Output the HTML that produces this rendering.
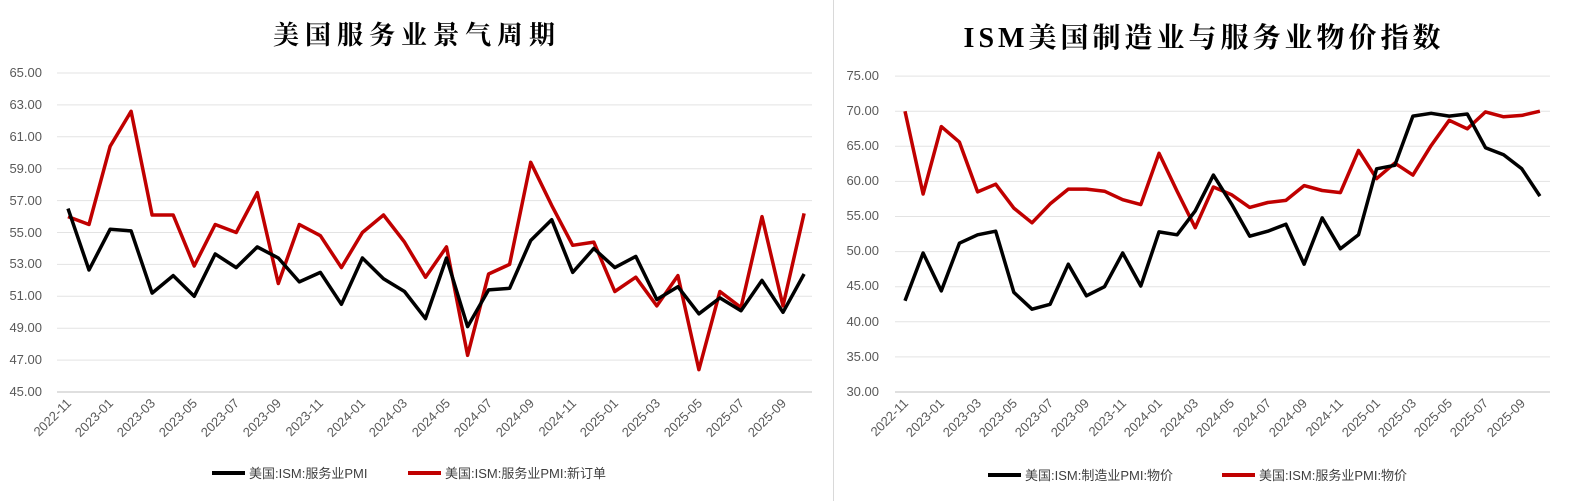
<!DOCTYPE html>
<html><head><meta charset="utf-8"><style>
html,body{margin:0;padding:0;background:#fff;}
svg{display:block;}
text{font-family:"Liberation Sans","Noto Sans CJK SC",sans-serif;fill:#595959;}
.t{font-family:"Liberation Serif","Noto Serif CJK SC",serif;font-size:26px;font-weight:bold;fill:#000;}
.y{font-size:13px;}
.x{font-size:13px;}
.lg{font-size:13px;fill:#404040;}
</style></head><body>
<svg id="s" width="1578" height="501" xmlns="http://www.w3.org/2000/svg">
<rect width="1578" height="501" fill="#fff"/>
<line x1="833.5" y1="0" x2="833.5" y2="501" stroke="#d9d9d9"/>
<text class="t" x="417" y="44" text-anchor="middle" letter-spacing="6">美国服务业景气周期</text>
<text class="t" x="1204" y="47" text-anchor="middle" letter-spacing="4" style="font-size:28px">ISM美国制造业与服务业物价指数</text>
<g id="grid"></g>
<g class="y" text-anchor="end">
<text x="42" y="77">65.00</text><text x="42" y="109">63.00</text><text x="42" y="141">61.00</text><text x="42" y="173">59.00</text><text x="42" y="205">57.00</text><text x="42" y="237">55.00</text><text x="42" y="268">53.00</text><text x="42" y="300">51.00</text><text x="42" y="332">49.00</text><text x="42" y="364">47.00</text><text x="42" y="396">45.00</text>
<text x="879" y="80">75.00</text><text x="879" y="115">70.00</text><text x="879" y="150">65.00</text><text x="879" y="185">60.00</text><text x="879" y="220">55.00</text><text x="879" y="255">50.00</text><text x="879" y="290">45.00</text><text x="879" y="326">40.00</text><text x="879" y="361">35.00</text><text x="879" y="396">30.00</text>
</g>
<g class="x" text-anchor="end">
<text transform="translate(72,404) rotate(-45)">2022-11</text>
<text transform="translate(114,404) rotate(-45)">2023-01</text>
<text transform="translate(156,404) rotate(-45)">2023-03</text>
<text transform="translate(198,404) rotate(-45)">2023-05</text>
<text transform="translate(240,404) rotate(-45)">2023-07</text>
<text transform="translate(282,404) rotate(-45)">2023-09</text>
<text transform="translate(324,404) rotate(-45)">2023-11</text>
<text transform="translate(366,404) rotate(-45)">2024-01</text>
<text transform="translate(408,404) rotate(-45)">2024-03</text>
<text transform="translate(451,404) rotate(-45)">2024-05</text>
<text transform="translate(493,404) rotate(-45)">2024-07</text>
<text transform="translate(535,404) rotate(-45)">2024-09</text>
<text transform="translate(577,404) rotate(-45)">2024-11</text>
<text transform="translate(619,404) rotate(-45)">2025-01</text>
<text transform="translate(661,404) rotate(-45)">2025-03</text>
<text transform="translate(703,404) rotate(-45)">2025-05</text>
<text transform="translate(745,404) rotate(-45)">2025-07</text>
<text transform="translate(787,404) rotate(-45)">2025-09</text>
<text transform="translate(909,404) rotate(-45)">2022-11</text>
<text transform="translate(945,404) rotate(-45)">2023-01</text>
<text transform="translate(982,404) rotate(-45)">2023-03</text>
<text transform="translate(1018,404) rotate(-45)">2023-05</text>
<text transform="translate(1054,404) rotate(-45)">2023-07</text>
<text transform="translate(1090,404) rotate(-45)">2023-09</text>
<text transform="translate(1127,404) rotate(-45)">2023-11</text>
<text transform="translate(1163,404) rotate(-45)">2024-01</text>
<text transform="translate(1199,404) rotate(-45)">2024-03</text>
<text transform="translate(1235,404) rotate(-45)">2024-05</text>
<text transform="translate(1272,404) rotate(-45)">2024-07</text>
<text transform="translate(1308,404) rotate(-45)">2024-09</text>
<text transform="translate(1344,404) rotate(-45)">2024-11</text>
<text transform="translate(1381,404) rotate(-45)">2025-01</text>
<text transform="translate(1417,404) rotate(-45)">2025-03</text>
<text transform="translate(1453,404) rotate(-45)">2025-05</text>
<text transform="translate(1489,404) rotate(-45)">2025-07</text>
<text transform="translate(1526,404) rotate(-45)">2025-09</text>
</g>
<g id="series"></g>
<line x1="212" y1="473" x2="245" y2="473" stroke="#000" stroke-width="4"/>
<text class="lg" x="249" y="478">美国:ISM:服务业PMI</text>
<line x1="408" y1="473" x2="441" y2="473" stroke="#c00000" stroke-width="4"/>
<text class="lg" x="445" y="478">美国:ISM:服务业PMI:新订单</text>
<line x1="988" y1="475" x2="1021" y2="475" stroke="#000" stroke-width="4"/>
<text class="lg" x="1025" y="480">美国:ISM:制造业PMI:物价</text>
<line x1="1222" y1="475" x2="1255" y2="475" stroke="#c00000" stroke-width="4"/>
<text class="lg" x="1259" y="480">美国:ISM:服务业PMI:物价</text>
</svg>
<script>
var NS="http://www.w3.org/2000/svg";
function el(p,n,a){var e=document.createElementNS(NS,n);for(var k in a)e.setAttribute(k,a[k]);p.appendChild(e);return e;}
var g=document.getElementById('grid'),s=document.getElementById('series');
for(var v=45;v<=65;v+=2){var y=392-(v-45)*15.95;el(g,'line',{x1:57,x2:812,y1:y,y2:y,stroke:v==45?'#bfbfbf':'#e3e3e3'});}
for(var v=30;v<=75;v+=5){var y=392-(v-30)*7.02;el(g,'line',{x1:895,x2:1550,y1:y,y2:y,stroke:v==30?'#bfbfbf':'#e3e3e3'});}
function line(d,x0,st,b,sc,c){var p=d.map(function(v,i){return (x0+st*i).toFixed(1)+','+(392-(v-b)*sc).toFixed(1)}).join(' ');
el(s,'polyline',{points:p,fill:'none',stroke:c,'stroke-width':3.5,'stroke-linejoin':'round'});}
var lb=[56.5,52.65,55.2,55.1,51.2,52.3,51.0,53.65,52.8,54.1,53.4,51.9,52.5,50.5,53.4,52.1,51.3,49.6,53.4,49.1,51.4,51.5,54.5,55.8,52.5,54.0,52.8,53.5,50.8,51.6,49.9,50.9,50.1,52.0,50.0,52.4];
var lr=[56.0,55.5,60.4,62.6,56.1,56.1,52.9,55.5,55.0,57.5,51.8,55.5,54.8,52.8,55.0,56.1,54.4,52.2,54.1,47.3,52.4,53.0,59.4,56.7,54.2,54.4,51.3,52.2,50.4,52.3,46.4,51.3,50.3,56.0,50.4,56.2];
var rb=[43.0,49.8,44.4,51.2,52.4,52.9,44.2,41.8,42.5,48.2,43.7,45.0,49.8,45.1,52.8,52.4,55.8,60.9,56.8,52.2,52.9,53.9,48.2,54.8,50.4,52.4,61.8,62.3,69.3,69.7,69.3,69.6,64.8,63.8,61.8,57.9];
var rr=[70.0,58.2,67.8,65.6,58.5,59.6,56.2,54.1,56.8,58.9,58.9,58.6,57.4,56.7,64.0,58.6,53.4,59.2,58.1,56.3,57.0,57.3,59.4,58.7,58.4,64.4,60.4,62.6,60.9,65.1,68.7,67.5,69.9,69.2,69.4,70.0];
line(lr,68,21.03,45,15.95,'#c00000');line(lb,68,21.03,45,15.95,'#000');
line(rr,905,18.14,30,7.02,'#c00000');line(rb,905,18.14,30,7.02,'#000');
</script>
</body></html>
